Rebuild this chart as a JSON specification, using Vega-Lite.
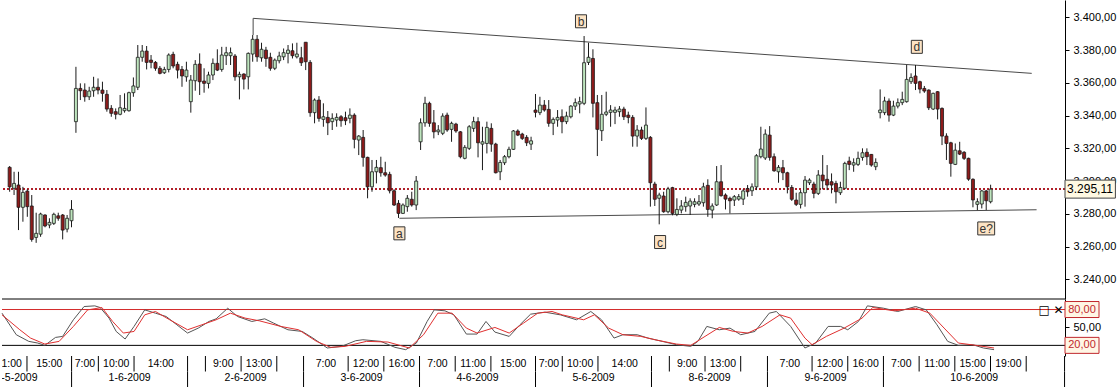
{
"$schema":"https://vega.github.io/schema/vega-lite/v6.json",
"padding":0,
"autosize":{"type":"pad"},
"spacing":0,
"bounds":"flush",
"background":"white",
"config":{"view":{"stroke":null},"axis":{"labelFont":"Liberation Sans","labelFontSize":11,"labelColor":"#000","domainColor":"#000","tickColor":"#000"},"text":{"font":"Liberation Sans"}},
"datasets":{
"candles":[
{"g":0,"o":3308.4,"h":3309.2,"l":3293.5,"c":3296.5},
{"g":1,"o":3295.6,"h":3305.7,"l":3291.5,"c":3298.6},
{"g":2,"o":3297.6,"h":3305.7,"l":3270.1,"c":3284.0},
{"g":3,"o":3284.0,"h":3296.5,"l":3275.2,"c":3293.1},
{"g":4,"o":3293.9,"h":3295.0,"l":3278.2,"c":3284.4},
{"g":5,"o":3284.8,"h":3291.5,"l":3263.0,"c":3264.4},
{"g":6,"o":3265.6,"h":3280.7,"l":3262.3,"c":3268.1},
{"g":7,"o":3267.6,"h":3280.7,"l":3266.0,"c":3279.9},
{"g":8,"o":3279.3,"h":3279.7,"l":3271.8,"c":3272.6},
{"g":9,"o":3273.2,"h":3277.3,"l":3271.2,"c":3274.8},
{"g":10,"o":3274.2,"h":3280.7,"l":3273.2,"c":3279.7},
{"g":11,"o":3278.8,"h":3280.7,"l":3275.8,"c":3277.3},
{"g":12,"o":3279.3,"h":3279.9,"l":3264.4,"c":3270.1},
{"g":13,"o":3270.7,"h":3279.3,"l":3268.7,"c":3277.3},
{"g":14,"o":3275.8,"h":3288.4,"l":3271.8,"c":3282.7},
{"g":15,"o":3336.3,"h":3369.8,"l":3329.5,"c":3356.6},
{"g":16,"o":3356.6,"h":3359.7,"l":3349.5,"c":3355.2},
{"g":17,"o":3355.6,"h":3359.7,"l":3348.5,"c":3351.5},
{"g":18,"o":3351.5,"h":3357.6,"l":3349.5,"c":3355.0},
{"g":19,"o":3355.2,"h":3363.7,"l":3351.5,"c":3357.3},
{"g":20,"o":3357.3,"h":3362.7,"l":3353.0,"c":3355.6},
{"g":21,"o":3355.6,"h":3360.7,"l":3348.5,"c":3353.6},
{"g":22,"o":3353.0,"h":3355.6,"l":3342.4,"c":3344.0},
{"g":23,"o":3344.4,"h":3346.4,"l":3339.3,"c":3341.4},
{"g":24,"o":3342.4,"h":3344.4,"l":3337.7,"c":3340.8},
{"g":25,"o":3340.8,"h":3352.6,"l":3340.2,"c":3344.8},
{"g":26,"o":3343.0,"h":3353.6,"l":3341.8,"c":3344.4},
{"g":27,"o":3343.0,"h":3354.6,"l":3342.4,"c":3354.0},
{"g":28,"o":3354.0,"h":3363.3,"l":3351.5,"c":3358.1},
{"g":29,"o":3357.3,"h":3383.1,"l":3355.6,"c":3375.6},
{"g":30,"o":3375.6,"h":3383.1,"l":3372.9,"c":3379.4},
{"g":31,"o":3379.4,"h":3382.5,"l":3368.2,"c":3372.5},
{"g":32,"o":3373.9,"h":3377.0,"l":3368.9,"c":3372.5},
{"g":33,"o":3372.5,"h":3373.3,"l":3367.4,"c":3368.9},
{"g":34,"o":3368.9,"h":3370.3,"l":3365.2,"c":3365.8},
{"g":35,"o":3366.2,"h":3369.8,"l":3365.4,"c":3368.2},
{"g":36,"o":3368.2,"h":3378.0,"l":3366.4,"c":3377.0},
{"g":37,"o":3377.4,"h":3379.0,"l":3368.9,"c":3370.3},
{"g":38,"o":3371.3,"h":3372.9,"l":3362.7,"c":3367.8},
{"g":39,"o":3368.2,"h":3370.3,"l":3357.6,"c":3364.2},
{"g":40,"o":3363.7,"h":3372.9,"l":3360.7,"c":3367.8},
{"g":41,"o":3348.5,"h":3364.8,"l":3341.8,"c":3361.7},
{"g":42,"o":3361.3,"h":3373.9,"l":3355.2,"c":3371.3},
{"g":43,"o":3371.5,"h":3378.0,"l":3352.6,"c":3360.7},
{"g":44,"o":3361.1,"h":3368.9,"l":3354.0,"c":3359.7},
{"g":45,"o":3359.7,"h":3366.8,"l":3356.6,"c":3364.8},
{"g":46,"o":3364.8,"h":3374.9,"l":3361.7,"c":3371.9},
{"g":47,"o":3371.9,"h":3380.5,"l":3367.2,"c":3367.8},
{"g":48,"o":3368.2,"h":3382.0,"l":3366.8,"c":3377.0},
{"g":49,"o":3376.6,"h":3382.0,"l":3370.9,"c":3378.4},
{"g":50,"o":3376.6,"h":3381.6,"l":3370.9,"c":3378.4},
{"g":51,"o":3376.4,"h":3377.6,"l":3361.3,"c":3363.7},
{"g":52,"o":3363.7,"h":3366.8,"l":3349.9,"c":3365.2},
{"g":53,"o":3365.4,"h":3365.8,"l":3356.0,"c":3362.3},
{"g":54,"o":3363.7,"h":3378.6,"l":3356.0,"c":3378.0},
{"g":55,"o":3377.6,"h":3389.2,"l":3372.9,"c":3386.6},
{"g":56,"o":3386.6,"h":3389.2,"l":3372.9,"c":3375.9},
{"g":57,"o":3375.3,"h":3384.5,"l":3372.9,"c":3380.5},
{"g":58,"o":3380.0,"h":3382.0,"l":3369.8,"c":3374.9},
{"g":59,"o":3375.6,"h":3378.4,"l":3367.4,"c":3368.9},
{"g":60,"o":3368.9,"h":3374.9,"l":3367.8,"c":3373.9},
{"g":61,"o":3373.5,"h":3379.0,"l":3371.9,"c":3376.4},
{"g":62,"o":3375.9,"h":3381.0,"l":3373.9,"c":3378.4},
{"g":63,"o":3378.0,"h":3383.1,"l":3371.9,"c":3380.0},
{"g":64,"o":3379.6,"h":3384.1,"l":3374.9,"c":3376.6},
{"g":65,"o":3375.9,"h":3384.5,"l":3374.9,"c":3377.6},
{"g":66,"o":3375.3,"h":3382.0,"l":3370.3,"c":3372.3},
{"g":67,"o":3384.8,"h":3384.8,"l":3367.8,"c":3372.9},
{"g":68,"o":3372.5,"h":3373.9,"l":3339.3,"c":3341.8},
{"g":69,"o":3341.8,"h":3350.5,"l":3335.3,"c":3349.5},
{"g":70,"o":3349.5,"h":3351.9,"l":3336.3,"c":3338.3},
{"g":71,"o":3337.7,"h":3347.5,"l":3333.2,"c":3339.3},
{"g":72,"o":3338.9,"h":3342.8,"l":3328.1,"c":3335.6},
{"g":73,"o":3336.3,"h":3341.4,"l":3331.2,"c":3338.3},
{"g":74,"o":3337.3,"h":3341.4,"l":3333.2,"c":3338.9},
{"g":75,"o":3339.3,"h":3340.3,"l":3333.2,"c":3336.9},
{"g":76,"o":3338.7,"h":3342.4,"l":3334.2,"c":3336.9},
{"g":77,"o":3338.3,"h":3344.4,"l":3335.3,"c":3340.3},
{"g":78,"o":3340.3,"h":3341.4,"l":3320.0,"c":3325.5},
{"g":79,"o":3325.1,"h":3328.1,"l":3315.9,"c":3327.5},
{"g":80,"o":3326.7,"h":3331.2,"l":3308.8,"c":3314.5},
{"g":81,"o":3314.5,"h":3314.9,"l":3289.5,"c":3296.5},
{"g":82,"o":3296.5,"h":3312.9,"l":3293.5,"c":3305.7},
{"g":83,"o":3305.7,"h":3312.9,"l":3298.6,"c":3308.4},
{"g":84,"o":3308.2,"h":3314.9,"l":3302.7,"c":3305.1},
{"g":85,"o":3305.1,"h":3311.8,"l":3302.7,"c":3303.7},
{"g":86,"o":3304.1,"h":3305.7,"l":3292.5,"c":3294.1},
{"g":87,"o":3294.1,"h":3295.0,"l":3284.8,"c":3285.4},
{"g":88,"o":3286.4,"h":3288.4,"l":3277.5,"c":3280.3},
{"g":89,"o":3280.3,"h":3286.4,"l":3279.9,"c":3285.4},
{"g":90,"o":3284.4,"h":3291.5,"l":3281.3,"c":3289.5},
{"g":91,"o":3288.9,"h":3293.5,"l":3284.4,"c":3285.4},
{"g":92,"o":3285.4,"h":3303.1,"l":3282.3,"c":3300.0},
{"g":93,"o":3324.0,"h":3338.3,"l":3319.0,"c":3335.6},
{"g":94,"o":3335.6,"h":3351.5,"l":3333.2,"c":3347.5},
{"g":95,"o":3347.5,"h":3348.5,"l":3333.2,"c":3335.3},
{"g":96,"o":3335.6,"h":3343.4,"l":3326.1,"c":3330.1},
{"g":97,"o":3330.1,"h":3334.2,"l":3328.1,"c":3331.2},
{"g":98,"o":3329.2,"h":3341.4,"l":3328.1,"c":3339.7},
{"g":99,"o":3340.3,"h":3341.8,"l":3330.1,"c":3331.2},
{"g":100,"o":3331.6,"h":3336.3,"l":3324.0,"c":3335.3},
{"g":101,"o":3334.8,"h":3335.6,"l":3329.5,"c":3330.6},
{"g":102,"o":3330.1,"h":3330.6,"l":3313.9,"c":3314.9},
{"g":103,"o":3313.9,"h":3322.0,"l":3313.3,"c":3320.6},
{"g":104,"o":3320.0,"h":3334.2,"l":3319.0,"c":3333.2},
{"g":105,"o":3332.2,"h":3339.3,"l":3330.1,"c":3336.3},
{"g":106,"o":3336.3,"h":3339.0,"l":3314.5,"c":3323.4},
{"g":107,"o":3322.6,"h":3333.2,"l":3306.7,"c":3324.0},
{"g":108,"o":3323.0,"h":3336.3,"l":3316.9,"c":3332.8},
{"g":109,"o":3332.2,"h":3335.3,"l":3317.9,"c":3322.6},
{"g":110,"o":3322.6,"h":3323.4,"l":3304.7,"c":3305.1},
{"g":111,"o":3305.7,"h":3312.9,"l":3300.6,"c":3311.4},
{"g":112,"o":3311.2,"h":3315.9,"l":3309.8,"c":3314.9},
{"g":113,"o":3314.9,"h":3321.0,"l":3313.9,"c":3319.4},
{"g":114,"o":3319.4,"h":3331.2,"l":3319.0,"c":3330.6},
{"g":115,"o":3330.6,"h":3331.6,"l":3327.5,"c":3328.1},
{"g":116,"o":3328.7,"h":3329.5,"l":3325.1,"c":3326.1},
{"g":117,"o":3326.7,"h":3328.1,"l":3321.4,"c":3323.4},
{"g":118,"o":3322.6,"h":3327.1,"l":3319.0,"c":3324.6},
{"g":119,"o":3343.4,"h":3353.2,"l":3338.9,"c":3342.0},
{"g":120,"o":3341.8,"h":3351.5,"l":3340.3,"c":3346.4},
{"g":121,"o":3346.4,"h":3349.5,"l":3342.4,"c":3343.4},
{"g":122,"o":3343.8,"h":3349.5,"l":3333.2,"c":3335.3},
{"g":123,"o":3335.3,"h":3338.9,"l":3328.1,"c":3337.7},
{"g":124,"o":3337.3,"h":3343.4,"l":3333.2,"c":3338.9},
{"g":125,"o":3339.3,"h":3343.8,"l":3329.2,"c":3336.3},
{"g":126,"o":3336.3,"h":3342.4,"l":3334.8,"c":3339.7},
{"g":127,"o":3339.3,"h":3346.4,"l":3338.3,"c":3345.8},
{"g":128,"o":3345.8,"h":3350.5,"l":3343.4,"c":3347.9},
{"g":129,"o":3347.1,"h":3351.5,"l":3341.4,"c":3348.5},
{"g":130,"o":3347.5,"h":3388.6,"l":3346.4,"c":3372.3},
{"g":131,"o":3372.5,"h":3384.5,"l":3370.9,"c":3375.6},
{"g":132,"o":3374.9,"h":3380.5,"l":3338.9,"c":3347.5},
{"g":133,"o":3347.9,"h":3352.6,"l":3315.3,"c":3331.6},
{"g":134,"o":3330.8,"h":3352.6,"l":3324.5,"c":3340.8},
{"g":135,"o":3340.8,"h":3354.6,"l":3339.7,"c":3342.2},
{"g":136,"o":3342.0,"h":3346.4,"l":3333.2,"c":3343.4},
{"g":137,"o":3342.0,"h":3345.4,"l":3334.8,"c":3343.4},
{"g":138,"o":3342.4,"h":3345.8,"l":3339.3,"c":3344.0},
{"g":139,"o":3344.0,"h":3345.4,"l":3337.3,"c":3339.3},
{"g":140,"o":3340.3,"h":3342.4,"l":3335.3,"c":3338.9},
{"g":141,"o":3338.9,"h":3340.3,"l":3321.0,"c":3327.5},
{"g":142,"o":3327.5,"h":3334.2,"l":3321.0,"c":3331.2},
{"g":143,"o":3331.2,"h":3333.2,"l":3325.1,"c":3326.1},
{"g":144,"o":3326.1,"h":3345.0,"l":3325.1,"c":3334.2},
{"g":145,"o":3326.7,"h":3327.5,"l":3284.4,"c":3299.0},
{"g":146,"o":3298.2,"h":3299.6,"l":3284.8,"c":3288.9},
{"g":147,"o":3289.5,"h":3292.9,"l":3273.6,"c":3291.5},
{"g":148,"o":3290.9,"h":3293.5,"l":3280.7,"c":3281.3},
{"g":149,"o":3281.3,"h":3296.5,"l":3280.3,"c":3295.2},
{"g":150,"o":3296.0,"h":3296.5,"l":3279.1,"c":3280.3},
{"g":151,"o":3279.7,"h":3289.5,"l":3278.6,"c":3282.7},
{"g":152,"o":3282.3,"h":3288.4,"l":3280.3,"c":3284.8},
{"g":153,"o":3284.4,"h":3290.5,"l":3281.3,"c":3287.0},
{"g":154,"o":3284.8,"h":3289.5,"l":3279.3,"c":3287.8},
{"g":155,"o":3285.8,"h":3289.5,"l":3284.0,"c":3287.4},
{"g":156,"o":3286.0,"h":3291.5,"l":3284.8,"c":3287.4},
{"g":157,"o":3286.8,"h":3299.0,"l":3284.4,"c":3296.5},
{"g":158,"o":3297.4,"h":3301.1,"l":3278.2,"c":3282.7},
{"g":159,"o":3282.3,"h":3286.4,"l":3277.3,"c":3284.8},
{"g":160,"o":3285.4,"h":3309.2,"l":3284.8,"c":3299.6},
{"g":161,"o":3299.6,"h":3309.8,"l":3290.5,"c":3291.1},
{"g":162,"o":3291.5,"h":3292.5,"l":3282.7,"c":3289.0},
{"g":163,"o":3289.5,"h":3290.5,"l":3280.3,"c":3288.0},
{"g":164,"o":3288.4,"h":3291.5,"l":3284.8,"c":3290.5},
{"g":165,"o":3289.0,"h":3292.1,"l":3288.0,"c":3290.5},
{"g":166,"o":3289.0,"h":3295.0,"l":3285.4,"c":3294.0},
{"g":167,"o":3295.5,"h":3297.6,"l":3290.5,"c":3293.5},
{"g":168,"o":3294.1,"h":3298.6,"l":3290.9,"c":3296.5},
{"g":169,"o":3296.5,"h":3316.5,"l":3294.5,"c":3315.5},
{"g":170,"o":3314.9,"h":3333.2,"l":3313.9,"c":3319.6},
{"g":171,"o":3314.1,"h":3331.6,"l":3312.9,"c":3328.7},
{"g":172,"o":3328.1,"h":3333.6,"l":3312.5,"c":3314.5},
{"g":173,"o":3314.9,"h":3316.9,"l":3305.7,"c":3306.3},
{"g":174,"o":3305.7,"h":3309.8,"l":3299.0,"c":3308.4},
{"g":175,"o":3308.2,"h":3312.9,"l":3300.6,"c":3305.1},
{"g":176,"o":3305.1,"h":3305.7,"l":3292.5,"c":3296.5},
{"g":177,"o":3296.1,"h":3297.6,"l":3287.9,"c":3288.9},
{"g":178,"o":3288.4,"h":3292.9,"l":3284.8,"c":3285.8},
{"g":179,"o":3285.8,"h":3294.5,"l":3283.3,"c":3292.9},
{"g":180,"o":3292.9,"h":3303.1,"l":3284.4,"c":3300.6},
{"g":181,"o":3299.0,"h":3301.7,"l":3297.6,"c":3300.6},
{"g":182,"o":3298.2,"h":3299.6,"l":3289.5,"c":3292.5},
{"g":183,"o":3292.5,"h":3306.7,"l":3291.5,"c":3303.7},
{"g":184,"o":3303.7,"h":3315.9,"l":3295.0,"c":3300.2},
{"g":185,"o":3301.1,"h":3309.8,"l":3294.5,"c":3297.6},
{"g":186,"o":3299.6,"h":3304.7,"l":3292.5,"c":3297.6},
{"g":187,"o":3298.6,"h":3300.2,"l":3286.4,"c":3293.5},
{"g":188,"o":3292.9,"h":3299.6,"l":3291.5,"c":3296.1},
{"g":189,"o":3295.6,"h":3311.8,"l":3295.0,"c":3310.8},
{"g":190,"o":3312.2,"h":3314.9,"l":3306.7,"c":3310.2},
{"g":191,"o":3309.8,"h":3313.9,"l":3305.7,"c":3311.2},
{"g":192,"o":3310.2,"h":3318.0,"l":3309.2,"c":3313.9},
{"g":193,"o":3314.5,"h":3320.0,"l":3312.5,"c":3317.3},
{"g":194,"o":3317.6,"h":3320.0,"l":3309.8,"c":3314.9},
{"g":195,"o":3316.3,"h":3316.5,"l":3308.8,"c":3309.8},
{"g":196,"o":3308.8,"h":3313.9,"l":3306.7,"c":3311.4},
{"g":197,"o":3341.8,"h":3356.0,"l":3338.3,"c":3343.4},
{"g":198,"o":3341.8,"h":3351.5,"l":3340.3,"c":3348.9},
{"g":199,"o":3348.9,"h":3350.5,"l":3336.3,"c":3340.3},
{"g":200,"o":3340.3,"h":3349.1,"l":3339.7,"c":3345.8},
{"g":201,"o":3345.8,"h":3350.5,"l":3344.4,"c":3347.9},
{"g":202,"o":3347.9,"h":3354.6,"l":3346.4,"c":3349.9},
{"g":203,"o":3348.5,"h":3370.9,"l":3347.9,"c":3362.1},
{"g":204,"o":3360.7,"h":3365.8,"l":3359.3,"c":3363.3},
{"g":205,"o":3364.2,"h":3370.9,"l":3355.6,"c":3359.7},
{"g":206,"o":3360.7,"h":3361.3,"l":3353.6,"c":3356.2},
{"g":207,"o":3356.6,"h":3358.1,"l":3353.9,"c":3355.0},
{"g":208,"o":3355.6,"h":3356.0,"l":3343.4,"c":3344.8},
{"g":209,"o":3344.0,"h":3354.0,"l":3343.4,"c":3353.6},
{"g":210,"o":3354.6,"h":3355.0,"l":3337.7,"c":3344.0},
{"g":211,"o":3344.4,"h":3345.0,"l":3322.0,"c":3327.5},
{"g":212,"o":3327.5,"h":3329.2,"l":3312.9,"c":3323.0},
{"g":213,"o":3323.4,"h":3324.0,"l":3302.7,"c":3310.8},
{"g":214,"o":3310.2,"h":3323.0,"l":3309.8,"c":3318.9},
{"g":215,"o":3318.5,"h":3324.0,"l":3315.9,"c":3316.5},
{"g":216,"o":3317.6,"h":3318.3,"l":3312.9,"c":3313.9},
{"g":217,"o":3313.9,"h":3314.3,"l":3300.2,"c":3301.2},
{"g":218,"o":3301.1,"h":3301.7,"l":3284.0,"c":3288.5},
{"g":219,"o":3285.8,"h":3289.5,"l":3282.3,"c":3287.4},
{"g":220,"o":3286.0,"h":3294.6,"l":3283.3,"c":3294.0},
{"g":221,"o":3294.0,"h":3294.6,"l":3282.3,"c":3288.0},
{"g":222,"o":3287.4,"h":3297.8,"l":3286.4,"c":3295.1}
],
"osc":[
{"g":-0.6,"v":73.9,"s":"K"},{"g":2.6,"v":37.8,"s":"K"},{"g":5.4,"v":26.7,"s":"K"},{"g":7.4,"v":23.9,"s":"K"},{"g":9.0,"v":20.0,"s":"K"},{"g":11.4,"v":33.3,"s":"K"},{"g":13.0,"v":35.0,"s":"K"},{"g":15.4,"v":62.8,"s":"K"},{"g":17.8,"v":85.0,"s":"K"},{"g":20.2,"v":86.1,"s":"K"},{"g":21.4,"v":83.3,"s":"K"},{"g":23.4,"v":65.6,"s":"K"},{"g":25.0,"v":43.3,"s":"K"},{"g":27.0,"v":30.6,"s":"K"},{"g":29.0,"v":51.7,"s":"K"},{"g":31.4,"v":79.4,"s":"K"},{"g":33.8,"v":73.9,"s":"K"},{"g":36.2,"v":68.3,"s":"K"},{"g":38.6,"v":54.4,"s":"K"},{"g":41.0,"v":40.6,"s":"K"},{"g":43.4,"v":48.9,"s":"K"},{"g":45.8,"v":60.0,"s":"K"},{"g":47.4,"v":64.4,"s":"K"},{"g":50.0,"v":82.2,"s":"K"},{"g":52.2,"v":68.3,"s":"K"},{"g":55.4,"v":60.0,"s":"K"},{"g":58.3,"v":64.4,"s":"K"},{"g":60.3,"v":57.2,"s":"K"},{"g":63.5,"v":46.1,"s":"K"},{"g":66.7,"v":43.3,"s":"K"},{"g":69.1,"v":32.2,"s":"K"},{"g":72.3,"v":15.6,"s":"K"},{"g":75.5,"v":18.3,"s":"K"},{"g":78.7,"v":27.8,"s":"K"},{"g":80.3,"v":29.4,"s":"K"},{"g":84.3,"v":26.7,"s":"K"},{"g":87.5,"v":16.7,"s":"K"},{"g":89.9,"v":12.8,"s":"K"},{"g":92.3,"v":23.9,"s":"K"},{"g":94.7,"v":60.0,"s":"K"},{"g":96.3,"v":79.4,"s":"K"},{"g":98.7,"v":77.8,"s":"K"},{"g":100.7,"v":71.1,"s":"K"},{"g":103.5,"v":38.9,"s":"K"},{"g":105.9,"v":38.9,"s":"K"},{"g":107.9,"v":60.0,"s":"K"},{"g":109.9,"v":42.2,"s":"K"},{"g":113.1,"v":35.0,"s":"K"},{"g":115.5,"v":54.4,"s":"K"},{"g":117.9,"v":72.2,"s":"K"},{"g":121.1,"v":75.6,"s":"K"},{"g":124.6,"v":71.0,"s":"K"},{"g":128.2,"v":62.8,"s":"K"},{"g":131.4,"v":76.7,"s":"K"},{"g":133.8,"v":62.8,"s":"K"},{"g":136.6,"v":32.2,"s":"K"},{"g":138.6,"v":37.8,"s":"K"},{"g":141.8,"v":37.8,"s":"K"},{"g":144.2,"v":32.2,"s":"K"},{"g":147.4,"v":26.7,"s":"K"},{"g":150.6,"v":21.1,"s":"K"},{"g":153.8,"v":18.3,"s":"K"},{"g":155.4,"v":26.7,"s":"K"},{"g":157.4,"v":51.7,"s":"K"},{"g":160.2,"v":46.1,"s":"K"},{"g":162.6,"v":48.9,"s":"K"},{"g":165.0,"v":37.8,"s":"K"},{"g":168.2,"v":43.3,"s":"K"},{"g":171.4,"v":73.9,"s":"K"},{"g":173.0,"v":76.7,"s":"K"},{"g":176.2,"v":51.7,"s":"K"},{"g":179.4,"v":15.6,"s":"K"},{"g":181.8,"v":23.9,"s":"K"},{"g":184.6,"v":51.7,"s":"K"},{"g":187.4,"v":51.7,"s":"K"},{"g":189.0,"v":46.1,"s":"K"},{"g":191.4,"v":60.0,"s":"K"},{"g":193.4,"v":86.1,"s":"K"},{"g":197.0,"v":82.2,"s":"K"},{"g":200.2,"v":76.7,"s":"K"},{"g":204.2,"v":85.0,"s":"K"},{"g":206.6,"v":79.4,"s":"K"},{"g":209.0,"v":54.4,"s":"K"},{"g":211.4,"v":26.7,"s":"K"},{"g":213.8,"v":20.0,"s":"K"},{"g":217.0,"v":21.1,"s":"K"},{"g":219.4,"v":15.6,"s":"K"},{"g":221.8,"v":12.8,"s":"K"},
{"g":-0.6,"v":71.1,"s":"D"},{"g":3.4,"v":46.1,"s":"D"},{"g":5.8,"v":32.2,"s":"D"},{"g":9.0,"v":22.2,"s":"D"},{"g":12.2,"v":26.7,"s":"D"},{"g":15.4,"v":51.7,"s":"D"},{"g":18.6,"v":79.4,"s":"D"},{"g":21.8,"v":83.3,"s":"D"},{"g":24.2,"v":60.0,"s":"D"},{"g":26.6,"v":40.6,"s":"D"},{"g":29.0,"v":43.3,"s":"D"},{"g":31.4,"v":71.1,"s":"D"},{"g":33.8,"v":76.7,"s":"D"},{"g":37.0,"v":62.8,"s":"D"},{"g":41.0,"v":46.1,"s":"D"},{"g":44.2,"v":54.4,"s":"D"},{"g":47.4,"v":62.8,"s":"D"},{"g":50.6,"v":73.9,"s":"D"},{"g":53.9,"v":65.6,"s":"D"},{"g":57.1,"v":61.1,"s":"D"},{"g":61.9,"v":51.7,"s":"D"},{"g":65.9,"v":46.1,"s":"D"},{"g":69.9,"v":26.7,"s":"D"},{"g":73.1,"v":16.7,"s":"D"},{"g":76.3,"v":18.3,"s":"D"},{"g":81.1,"v":26.7,"s":"D"},{"g":85.9,"v":25.6,"s":"D"},{"g":90.7,"v":15.6,"s":"D"},{"g":93.9,"v":37.8,"s":"D"},{"g":97.1,"v":73.9,"s":"D"},{"g":100.3,"v":73.9,"s":"D"},{"g":103.5,"v":48.9,"s":"D"},{"g":105.9,"v":40.6,"s":"D"},{"g":109.9,"v":50.0,"s":"D"},{"g":113.1,"v":40.6,"s":"D"},{"g":116.3,"v":57.2,"s":"D"},{"g":119.5,"v":73.9,"s":"D"},{"g":122.7,"v":76.7,"s":"D"},{"g":125.0,"v":71.1,"s":"D"},{"g":129.8,"v":62.8,"s":"D"},{"g":132.2,"v":71.1,"s":"D"},{"g":135.4,"v":48.9,"s":"D"},{"g":138.6,"v":37.8,"s":"D"},{"g":142.6,"v":35.0,"s":"D"},{"g":145.8,"v":29.4,"s":"D"},{"g":150.6,"v":22.2,"s":"D"},{"g":153.8,"v":20.0,"s":"D"},{"g":157.0,"v":35.0,"s":"D"},{"g":160.2,"v":50.0,"s":"D"},{"g":163.4,"v":43.3,"s":"D"},{"g":166.6,"v":40.6,"s":"D"},{"g":169.8,"v":51.7,"s":"D"},{"g":173.8,"v":71.1,"s":"D"},{"g":176.2,"v":65.6,"s":"D"},{"g":179.4,"v":32.2,"s":"D"},{"g":181.0,"v":21.1,"s":"D"},{"g":184.2,"v":35.0,"s":"D"},{"g":188.2,"v":48.9,"s":"D"},{"g":192.2,"v":65.6,"s":"D"},{"g":194.6,"v":83.3,"s":"D"},{"g":199.4,"v":77.8,"s":"D"},{"g":204.2,"v":82.2,"s":"D"},{"g":207.4,"v":73.9,"s":"D"},{"g":210.6,"v":48.9,"s":"D"},{"g":213.8,"v":23.9,"s":"D"},{"g":217.8,"v":20.0,"s":"D"},{"g":221.8,"v":15.6,"s":"D"}
],
"trend":[
{"id":"u","seq":0,"g":55.1,"p":3389.2},{"id":"u","seq":1,"g":55.1,"p":3399.4},{"id":"u","seq":2,"g":231.3,"p":3365.8},
{"id":"l","seq":0,"g":88.2,"p":3277.3},{"id":"l","seq":1,"g":232.4,"p":3282.5}
],
"notes":[
{"g":88.2,"p":3268.1,"t":"a"},{"g":129.3,"p":3397.6,"t":"b"},{"g":147.2,"p":3262.8,"t":"c"},{"g":205.3,"p":3382.0,"t":"d"},{"g":221.0,"p":3271.1,"t":"e?"}
],
"last":[{"p":3295.11,"t":"3.295,11"}],
"levels":[{"v":97.6},{"v":80},{"v":20}],
"oscbox":[{"v":80,"t":"80,00"},{"v":20,"t":"20,00"}],
"icons":[{"v":80,"t":"□ ✕"}],
"hdiv":[{"g":5},{"g":15},{"g":21},{"g":29},{"g":41},{"g":45},{"g":53},{"g":61},{"g":67},{"g":77},{"g":85},{"g":93},{"g":101},{"g":109},{"g":119},{"g":125},{"g":133},{"g":145},{"g":149},{"g":157},{"g":165},{"g":171},{"g":181},{"g":189},{"g":197},{"g":205},{"g":213},{"g":221},{"g":229},{"g":237.6}],
"ddiv":[{"g":15},{"g":41},{"g":67},{"g":93},{"g":119},{"g":145},{"g":171},{"g":197},{"g":237.6}],
"hours":[{"g":1,"t":"11:00"},{"g":10,"t":"15:00"},{"g":18,"t":"7:00"},{"g":25,"t":"10:00"},{"g":35,"t":"14:00"},{"g":49,"t":"9:00"},{"g":57,"t":"13:00"},{"g":72,"t":"7:00"},{"g":81,"t":"12:00"},{"g":89,"t":"16:00"},{"g":97,"t":"7:00"},{"g":105,"t":"11:00"},{"g":114,"t":"15:00"},{"g":122,"t":"7:00"},{"g":129,"t":"10:00"},{"g":139,"t":"14:00"},{"g":153,"t":"9:00"},{"g":161,"t":"13:00"},{"g":176,"t":"7:00"},{"g":185,"t":"12:00"},{"g":193,"t":"16:00"},{"g":201,"t":"7:00"},{"g":209,"t":"11:00"},{"g":217,"t":"15:00"},{"g":225,"t":"19:00"}],
"dates":[{"g":2,"t":"29-5-2009"},{"g":28,"t":"1-6-2009"},{"g":54,"t":"2-6-2009"},{"g":80,"t":"3-6-2009"},{"g":106,"t":"4-6-2009"},{"g":132,"t":"5-6-2009"},{"g":158,"t":"8-6-2009"},{"g":184,"t":"9-6-2009"},{"g":217.35,"t":"10-6-2009"}]
},
"vconcat":[
{
"width":1063,"height":299,
"layer":[
{"data":{"name":"last"},"mark":{"type":"rule","color":"#B0202A","strokeWidth":2,"strokeDash":[2,2]},
 "encoding":{"y":{"field":"p","type":"quantitative","scale":{"domain":[3228,3410.6],"nice":false,"zero":false},
  "axis":{"orient":"right","values":[3240,3260,3280,3300,3320,3340,3360,3380,3400],"labelExpr":"replace(replace(replace(format(datum.value, ',.2f'), ',', '#'), '.', ','), '#', '.')","title":null,"grid":false,"tickSize":4,"labelPadding":4,"labelOverlap":false,"domainWidth":1}}}},
{"data":{"name":"trend"},"mark":{"type":"line","color":"#4a4a4a","strokeWidth":1},
 "encoding":{"x":{"field":"g","type":"quantitative","scale":{"domain":[-0.6,237.7],"nice":false,"zero":false},"axis":null},
  "y":{"field":"p","type":"quantitative","scale":{"domain":[3228,3410.6],"nice":false,"zero":false},
  "axis":{"orient":"right","values":[3240,3260,3280,3300,3320,3340,3360,3380,3400],"labelExpr":"replace(replace(replace(format(datum.value, ',.2f'), ',', '#'), '.', ','), '#', '.')","title":null,"grid":false,"tickSize":4,"labelPadding":4,"labelOverlap":false,"domainWidth":1}},
  "detail":{"field":"id"},"order":{"field":"seq","type":"quantitative"}}},
{"data":{"name":"candles"},"mark":{"type":"rule","color":"#1a1a1a","strokeWidth":1},
 "encoding":{"x":{"field":"g","type":"quantitative","scale":{"domain":[-0.6,237.7],"nice":false,"zero":false},"axis":null},
  "y":{"field":"l","type":"quantitative","scale":{"domain":[3228,3410.6],"nice":false,"zero":false},
  "axis":{"orient":"right","values":[3240,3260,3280,3300,3320,3340,3360,3380,3400],"labelExpr":"replace(replace(replace(format(datum.value, ',.2f'), ',', '#'), '.', ','), '#', '.')","title":null,"grid":false,"tickSize":4,"labelPadding":4,"labelOverlap":false,"domainWidth":1}},
  "y2":{"field":"h"}}},
{"data":{"name":"candles"},"mark":{"type":"bar","size":3,"stroke":"#1a1a1a","strokeWidth":0.8},
 "encoding":{"x":{"field":"g","type":"quantitative","scale":{"domain":[-0.6,237.7],"nice":false,"zero":false},"axis":null},
  "y":{"field":"o","type":"quantitative","scale":{"domain":[3228,3410.6],"nice":false,"zero":false},
  "axis":{"orient":"right","values":[3240,3260,3280,3300,3320,3340,3360,3380,3400],"labelExpr":"replace(replace(replace(format(datum.value, ',.2f'), ',', '#'), '.', ','), '#', '.')","title":null,"grid":false,"tickSize":4,"labelPadding":4,"labelOverlap":false,"domainWidth":1}},
  "y2":{"field":"c"},
  "fill":{"condition":{"test":"datum.c >= datum.o","value":"#BEE5BE"},"value":"#8E1B1B"}}},
{"data":{"name":"notes"},"transform":[{"filter":"length(datum.t) == 1"}],
 "mark":{"type":"point","shape":"M-0.85,-1H0.85V1H-0.85Z","size":169,"filled":true,"fill":"#FCE3C4","stroke":"#333333","strokeWidth":1,"opacity":1},
 "encoding":{"x":{"field":"g","type":"quantitative","scale":{"domain":[-0.6,237.7],"nice":false,"zero":false},"axis":null},
  "y":{"field":"p","type":"quantitative","scale":{"domain":[3228,3410.6],"nice":false,"zero":false},
  "axis":{"orient":"right","values":[3240,3260,3280,3300,3320,3340,3360,3380,3400],"labelExpr":"replace(replace(replace(format(datum.value, ',.2f'), ',', '#'), '.', ','), '#', '.')","title":null,"grid":false,"tickSize":4,"labelPadding":4,"labelOverlap":false,"domainWidth":1}}}},
{"data":{"name":"notes"},"transform":[{"filter":"length(datum.t) > 1"}],
 "mark":{"type":"point","shape":"M-1.3,-1H1.3V1H-1.3Z","size":169,"filled":true,"fill":"#FCE3C4","stroke":"#333333","strokeWidth":1,"opacity":1},
 "encoding":{"x":{"field":"g","type":"quantitative","scale":{"domain":[-0.6,237.7],"nice":false,"zero":false},"axis":null},
  "y":{"field":"p","type":"quantitative","scale":{"domain":[3228,3410.6],"nice":false,"zero":false},
  "axis":{"orient":"right","values":[3240,3260,3280,3300,3320,3340,3360,3380,3400],"labelExpr":"replace(replace(replace(format(datum.value, ',.2f'), ',', '#'), '.', ','), '#', '.')","title":null,"grid":false,"tickSize":4,"labelPadding":4,"labelOverlap":false,"domainWidth":1}}}},
{"data":{"name":"notes"},
 "mark":{"type":"text","fontSize":12,"color":"#333333","baseline":"middle","align":"center","dy":0.5},
 "encoding":{"x":{"field":"g","type":"quantitative","scale":{"domain":[-0.6,237.7],"nice":false,"zero":false},"axis":null},
  "y":{"field":"p","type":"quantitative","scale":{"domain":[3228,3410.6],"nice":false,"zero":false},
  "axis":{"orient":"right","values":[3240,3260,3280,3300,3320,3340,3360,3380,3400],"labelExpr":"replace(replace(replace(format(datum.value, ',.2f'), ',', '#'), '.', ','), '#', '.')","title":null,"grid":false,"tickSize":4,"labelPadding":4,"labelOverlap":false,"domainWidth":1}},
  "text":{"field":"t"}}},
{"data":{"name":"last"},
 "mark":{"type":"point","shape":"M0,-1H5.6V1H0Z","size":324,"filled":true,"fill":"#FFF9E3","stroke":"#444444","strokeWidth":1,"opacity":1},
 "encoding":{"x":{"value":"width"},
  "y":{"field":"p","type":"quantitative","scale":{"domain":[3228,3410.6],"nice":false,"zero":false},
  "axis":{"orient":"right","values":[3240,3260,3280,3300,3320,3340,3360,3380,3400],"labelExpr":"replace(replace(replace(format(datum.value, ',.2f'), ',', '#'), '.', ','), '#', '.')","title":null,"grid":false,"tickSize":4,"labelPadding":4,"labelOverlap":false,"domainWidth":1}}}},
{"data":{"name":"last"},
 "mark":{"type":"text","fontSize":12,"color":"#000","baseline":"middle","align":"center","dx":25},
 "encoding":{"x":{"value":"width"},
  "y":{"field":"p","type":"quantitative","scale":{"domain":[3228,3410.6],"nice":false,"zero":false},
  "axis":{"orient":"right","values":[3240,3260,3280,3300,3320,3340,3360,3380,3400],"labelExpr":"replace(replace(replace(format(datum.value, ',.2f'), ',', '#'), '.', ','), '#', '.')","title":null,"grid":false,"tickSize":4,"labelPadding":4,"labelOverlap":false,"domainWidth":1}},
  "text":{"field":"t"}}}
]
},
{
"width":1063,"height":57,
"layer":[
{"data":{"name":"levels"},"mark":{"type":"rule","strokeWidth":1},
 "encoding":{"y":{"field":"v","type":"quantitative","scale":{"domain":[2.2,97.6],"nice":false,"zero":false},
  "axis":{"orient":"right","values":[50],"labelExpr":"replace(format(datum.value, '.2f'), '.', ',')","title":null,"grid":false,"tickSize":4,"labelPadding":4,"domainWidth":1}},
  "color":{"condition":{"test":"datum.v == 80","value":"#D42A2A"},"value":"#000000"}}},
{"data":{"name":"osc"},"mark":{"type":"line","strokeWidth":1},
 "encoding":{"x":{"field":"g","type":"quantitative","scale":{"domain":[-0.6,237.7],"nice":false,"zero":false},"axis":null},
  "y":{"field":"v","type":"quantitative","scale":{"domain":[2.2,97.6],"nice":false,"zero":false},
  "axis":{"orient":"right","values":[50],"labelExpr":"replace(format(datum.value, '.2f'), '.', ',')","title":null,"grid":false,"tickSize":4,"labelPadding":4,"domainWidth":1}},
  "color":{"field":"s","type":"nominal","scale":{"domain":["K","D"],"range":["#555555","#E03030"]},"legend":null}}},
{"data":{"name":"oscbox"},
 "mark":{"type":"point","shape":"M0,-1H4.25V1H0Z","size":256,"filled":true,"fill":"#FFF6E5","stroke":"#C0282D","strokeWidth":1,"opacity":1},
 "encoding":{"x":{"value":"width"},
  "y":{"field":"v","type":"quantitative","scale":{"domain":[2.2,97.6],"nice":false,"zero":false},
  "axis":{"orient":"right","values":[50],"labelExpr":"replace(format(datum.value, '.2f'), '.', ',')","title":null,"grid":false,"tickSize":4,"labelPadding":4,"domainWidth":1}}}},
{"data":{"name":"oscbox"},
 "mark":{"type":"text","fontSize":11,"color":"#C0282D","baseline":"middle","align":"center","dx":17},
 "encoding":{"x":{"value":"width"},
  "y":{"field":"v","type":"quantitative","scale":{"domain":[2.2,97.6],"nice":false,"zero":false},
  "axis":{"orient":"right","values":[50],"labelExpr":"replace(format(datum.value, '.2f'), '.', ',')","title":null,"grid":false,"tickSize":4,"labelPadding":4,"domainWidth":1}},
  "text":{"field":"t"}}},
{"data":{"name":"icons"},
 "mark":{"type":"text","fontSize":12,"font":"DejaVu Sans","color":"#000","baseline":"middle","align":"center","dx":-14},
 "encoding":{"x":{"value":"width"},
  "y":{"field":"v","type":"quantitative","scale":{"domain":[2.2,97.6],"nice":false,"zero":false},
  "axis":{"orient":"right","values":[50],"labelExpr":"replace(format(datum.value, '.2f'), '.', ',')","title":null,"grid":false,"tickSize":4,"labelPadding":4,"domainWidth":1}},
  "text":{"field":"t"}}}
]
},
{
"width":1063,"height":31,
"layer":[
{"data":{"name":"hdiv"},"mark":{"type":"rule","color":"#000","strokeWidth":1},
 "encoding":{"x":{"field":"g","type":"quantitative","scale":{"domain":[-0.6,237.7],"nice":false,"zero":false},"axis":null},
  "y":{"datum":1,"type":"quantitative","scale":{"domain":[0,2],"nice":false,"zero":false},"axis":null},
  "y2":{"datum":2}}},
{"data":{"name":"ddiv"},"mark":{"type":"rule","color":"#000","strokeWidth":1},
 "encoding":{"x":{"field":"g","type":"quantitative","scale":{"domain":[-0.6,237.7],"nice":false,"zero":false},"axis":null},
  "y":{"datum":0,"type":"quantitative","scale":{"domain":[0,2],"nice":false,"zero":false},"axis":null},
  "y2":{"datum":1}}},
{"data":{"name":"hours"},"mark":{"type":"text","fontSize":10.5,"color":"#000","baseline":"middle","align":"center","clip":true},
 "encoding":{"x":{"field":"g","type":"quantitative","scale":{"domain":[-0.6,237.7],"nice":false,"zero":false},"axis":null},
  "y":{"datum":1.5,"type":"quantitative","scale":{"domain":[0,2],"nice":false,"zero":false},"axis":null},
  "text":{"field":"t"}}},
{"data":{"name":"dates"},"mark":{"type":"text","fontSize":10.5,"color":"#000","baseline":"middle","align":"center","clip":true},
 "encoding":{"x":{"field":"g","type":"quantitative","scale":{"domain":[-0.6,237.7],"nice":false,"zero":false},"axis":null},
  "y":{"datum":0.55,"type":"quantitative","scale":{"domain":[0,2],"nice":false,"zero":false},"axis":null},
  "text":{"field":"t"}}}
]
}
]
}
